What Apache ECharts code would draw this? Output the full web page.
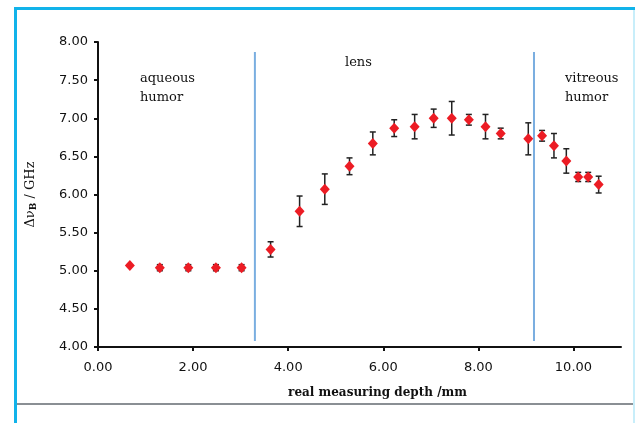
<!DOCTYPE html>
<html>
<head>
<meta charset="utf-8">
<script src="https://cdn.jsdelivr.net/npm/echarts@6/dist/echarts.min.js"></script>
<style>
    html, body { margin: 0; padding: 0; background: #fff; }
    #chart { width: 635px; height: 423px; }
</style>
</head>
<body>
<div id="chart"></div>
<script>
    // measuring depth (mm), Brillouin shift (GHz), error (GHz)
    const depth = [0.67, 1.30, 1.90, 2.48, 3.02, 3.63, 4.24, 4.77, 5.29, 5.78, 6.23, 6.66,
        7.06, 7.44, 7.80, 8.15, 8.47, 9.05, 9.34, 9.59, 9.85, 10.10, 10.31, 10.53]
    const shift = [5.07, 5.04, 5.04, 5.04, 5.04, 5.28, 5.78, 6.07, 6.37, 6.67, 6.87, 6.89,
        7.00, 7.00, 6.98, 6.89, 6.80, 6.73, 6.77, 6.64, 6.44, 6.23, 6.23, 6.13]
    const err = [0.00, 0.04, 0.04, 0.04, 0.04, 0.10, 0.20, 0.20, 0.11, 0.15, 0.11, 0.16,
        0.12, 0.22, 0.07, 0.16, 0.07, 0.21, 0.07, 0.16, 0.16, 0.06, 0.06, 0.11]

    // boundaries between regions
    const boundaries = [3.30, 9.17]
    const boundarySpan = [4.08, 7.87]
    const regions = ['aqueous\nhumor', 'lens', 'vitreous\nhumor']

    const chart = echarts.init(document.getElementById('chart'))

    const points = depth.map((d, i) => [d, shift[i]])
    const bars = depth.map((d, i) => [d, shift[i] - err[i], shift[i] + err[i]])

    const boundarySeries = boundaries.map(b => ({
        type: 'line',
        data: [[b, boundarySpan[0]], [b, boundarySpan[1]]],
        symbol: 'none',
        silent: true,
        lineStyle: { color: '#7aaee0', width: 2 },
        z: 1
    }))

    const serif = 'DejaVu Serif'
    const labelStyle = { position: 'absolute', fontFamily: serif, fontSize: 13, fill: '#111', lineHeight: 19 }

    const option = {
        animation: false,
        backgroundColor: '#fff',
        grid: { left: 98, right: 14, top: 42, bottom: 76 },
        xAxis: {
            type: 'value',
            min: 0,
            max: 11,
            interval: 2,
            name: 'real measuring depth /mm',
            nameLocation: 'middle',
            nameGap: 40,
            nameTextStyle: { fontFamily: serif, fontWeight: 'bold', fontSize: 12, color: '#111', padding: [0, 0, 0, 36] },
            axisLine: { lineStyle: { color: '#111', width: 2 } },
            axisTick: { length: 4, lineStyle: { color: '#111', width: 2 } },
            axisLabel: {
                fontFamily: 'DejaVu Sans', fontSize: 13, color: '#111', margin: 14,
                showMaxLabel: false,
                formatter: v => v.toFixed(2)
            },
            splitLine: { show: false }
        },
        yAxis: {
            type: 'value',
            min: 4,
            max: 8,
            interval: 0.5,
            name: '{a|Δν}{b|B}{a| / GHz}',
            nameLocation: 'middle',
            nameGap: 60,
            nameRotate: 90,
            nameTextStyle: {
                rich: {
                    a: { fontFamily: serif, fontSize: 13, color: '#111' },
                    b: { fontFamily: serif, fontSize: 9, fontWeight: 'bold', color: '#111', verticalAlign: 'bottom', padding: [6, 0, 0, 0] }
                }
            },
            axisLine: { show: true, lineStyle: { color: '#111', width: 2 } },
            axisTick: { show: true, length: 4, lineStyle: { color: '#111', width: 2 } },
            axisLabel: { fontFamily: 'DejaVu Sans', fontSize: 13, color: '#111', margin: 10, formatter: v => v.toFixed(2) },
            splitLine: { show: false }
        },
        graphic: [
            // frame
            { type: 'rect', shape: { x: 14, y: 7, width: 3, height: 416 }, style: { fill: '#11b3ea' } },
            { type: 'rect', shape: { x: 14, y: 7, width: 621, height: 3 }, style: { fill: '#11b3ea' } },
            { type: 'rect', shape: { x: 633, y: 10, width: 2, height: 413 }, style: { fill: '#c8eefa' } },
            { type: 'rect', shape: { x: 17, y: 403, width: 616, height: 2 }, style: { fill: '#8a8f94' } },
            // region names
            { type: 'text', x: 140, y: 69, style: Object.assign({ text: regions[0] }, labelStyle) },
            { type: 'text', x: 345, y: 53, style: Object.assign({ text: regions[1] }, labelStyle) },
            { type: 'text', x: 565, y: 69, style: Object.assign({ text: regions[2] }, labelStyle) }
        ],
        series: [
            ...boundarySeries,
            {
                type: 'custom',
                data: bars,
                z: 2,
                renderItem: (params, api) => {
                    const x = api.value(0)
                    const lo = api.coord([x, api.value(1)])
                    const hi = api.coord([x, api.value(2)])
                    const cap = 3
                    const style = { stroke: '#222', lineWidth: 1.5 }
                    return {
                        type: 'group',
                        children: [
                            { type: 'line', shape: { x1: lo[0], y1: lo[1], x2: hi[0], y2: hi[1] }, style },
                            { type: 'line', shape: { x1: lo[0] - cap, y1: lo[1], x2: lo[0] + cap, y2: lo[1] }, style },
                            { type: 'line', shape: { x1: hi[0] - cap, y1: hi[1], x2: hi[0] + cap, y2: hi[1] }, style }
                        ]
                    }
                }
            },
            {
                type: 'scatter',
                data: points,
                symbol: 'diamond',
                symbolSize: [10, 11],
                itemStyle: { color: '#ec1c24', opacity: 1 },
                z: 3
            }
        ]
    }

    chart.setOption(option)
</script>
</body>
</html>
